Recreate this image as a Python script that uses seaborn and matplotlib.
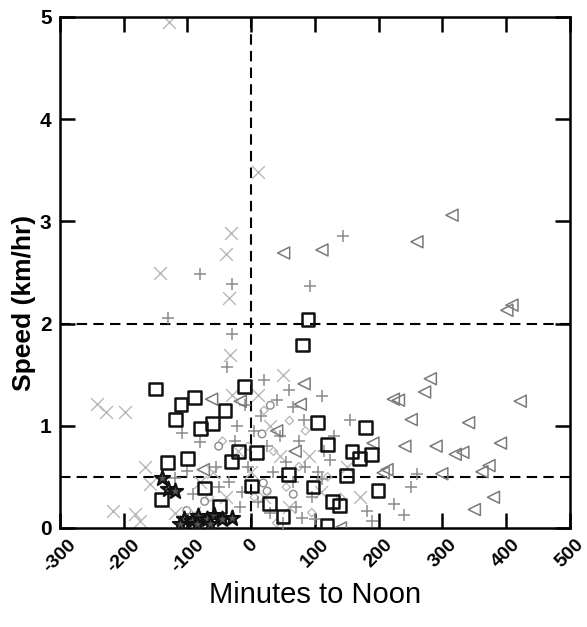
import matplotlib
matplotlib.use("Agg")
import matplotlib.pyplot as plt
import seaborn as sns
import pandas as pd

# open squares (black)
sq_x = [-150, -89, -110, -119, -80, -61, -41, -11, 89, 80, -131, -100, -20, -31, 9, 0,
        -140, -73, -50, 29, 50, 59, 104, 97, 179, 120, 158, 170, 189, 149, 199, 128, 138, 119]
sq_y = [1.36, 1.28, 1.21, 1.06, 0.97, 1.02, 1.15, 1.38, 2.04, 1.79, 0.64, 0.68, 0.75, 0.65, 0.74, 0.41,
        0.28, 0.39, 0.21, 0.24, 0.11, 0.52, 1.03, 0.40, 0.98, 0.82, 0.75, 0.68, 0.72, 0.51, 0.37, 0.26, 0.22, 0.02]

# open left triangles (gray)
tri_x = [409, 401, 281, 272, 223, 231, 422, 251, 341, 191, 241, 290, 320, 332, 391, 207, 213,
         299, 362, 373, 380, 350, 140, 315, 260, 111, 51, 83, -62, -17, 40, 69, -75, 77]
tri_y = [2.18, 2.13, 1.46, 1.33, 1.26, 1.25, 1.24, 1.06, 1.03, 0.83, 0.80, 0.80, 0.72, 0.74, 0.83, 0.54, 0.57,
         0.53, 0.55, 0.61, 0.30, 0.18, 0.0, 3.06, 2.80, 2.72, 2.69, 1.41, 1.26, 1.24, 0.95, 0.75, 0.57, 1.21]

# crosses (light gray)
x_x = [-129, 10, -31, -40, -143, -35, -33, -242, -227, -198, -166, -159, -216, -182, -174,
       -60, -40, -20, 0, 20, 45, 60, -80, 10, 30, -30, 50, 90, 110, 150, 170, -90, -120]
x_y = [4.95, 3.48, 2.89, 2.68, 2.49, 2.25, 1.69, 1.21, 1.13, 1.13, 0.60, 0.43, 0.17, 0.14, 0.07,
       0.55, 0.30, 0.75, 0.55, 0.30, 0.70, 0.20, 0.45, 1.30, 1.00, 1.30, 1.50, 0.70, 0.35, 0.60, 0.30, 0.15, 0.15]

# plus signs (gray)
p_x = [144, -80, -30, 92, -30, -130, -38, 111, 83, 155, 123, 111, 250, 260, 224, 240, 182, 190, 100,
       66, -80, -22, -17, -91, -109, -119, -101,
       5, 15, 25, 35, 45, 55, 65, 75, 85, 95, 105, 115, 130, -5, -15, -25, 10, 30, 50, 70, 80, -35, -55, -10, 40, 60, 20, -50]
p_y = [2.86, 2.48, 2.39, 2.37, 1.90, 2.05, 1.57, 1.29, 1.06, 1.06, 0.66, 0.48, 0.40, 0.53, 0.23, 0.13, 0.17, 0.07, 0.09,
       1.18, 0.84, 1.00, 0.20, 0.33, 0.93, 0.49, 0.56,
       0.95, 1.10, 0.80, 0.55, 0.90, 0.65, 0.45, 0.85, 0.60, 0.30, 0.55, 0.75, 0.90, 0.60, 0.35, 0.85, 0.25, 0.15, 0.05, 0.20, 0.10, 0.45, 0.60, 1.20, 1.25, 1.35, 1.45, 0.40]

# stars (black)
st_x = [-140, -130, -119, -106, -93, -83, -70, -59, -46, -30, -111, -85, -64]
st_y = [0.49, 0.38, 0.36, 0.09, 0.07, 0.12, 0.09, 0.13, 0.09, 0.10, 0.04, 0.04, 0.04]

# small open circles (gray)
c_x = [-101, -73, -51, 17, 30, 19, 66, -64, 25]
c_y = [0.17, 0.26, 0.80, 0.92, 1.20, 0.44, 0.33, 0.10, 0.36]

# small diamonds (light gray)
d_x = [-5, 35, 55, 75, 95, 5, 40, 120, -45, 20, 60, 140, -65, 85]
d_y = [0.80, 0.75, 0.40, 0.60, 0.15, 0.30, 0.05, 0.50, 0.85, 1.15, 1.05, 0.30, 0.30, 0.95]

sns.set_style("ticks")
plt.rcParams['font.family'] = ['Liberation Sans', 'DejaVu Sans']
plt.rcParams['axes.unicode_minus'] = False
plt.rcParams['text.color'] = 'k'
plt.rcParams['axes.labelcolor'] = 'k'

fig = plt.figure(figsize=(5.87, 6.27), dpi=100)
ax = fig.add_axes([0.102, 0.158, 0.869, 0.815])

ax.axvline(0, color='k', lw=1.5, ls=(0, (5, 3)), zorder=1)
ax.axhline(2, color='k', lw=1.5, ls=(0, (5, 3)), zorder=1)
ax.axhline(0.5, color='k', lw=1.5, ls=(0, (5, 3)), zorder=1)

def open_series(xs, ys, marker, size, color, lw, z, face='none'):
    df = pd.DataFrame({'x': xs, 'y': ys})
    sns.scatterplot(data=df, x='x', y='y', marker=marker, s=size, color=color,
                    linewidth=lw, ax=ax, zorder=z, legend=False)
    coll = ax.collections[-1]
    coll.set_facecolor(face)
    coll.set_edgecolor(color)
    coll.set_linewidth(lw)

open_series(d_x, d_y, 'D', 18, '#b5b5b5', 0.9, 2)
open_series(c_x, c_y, 'o', 30, '#8a8a8a', 1.0, 2)

sns.scatterplot(x=x_x, y=x_y, marker='x', s=85, color='#b8b8b8', linewidth=1.0, ax=ax, zorder=2, legend=False)
sns.scatterplot(x=p_x, y=p_y, marker='+', s=80, color='#8c8c8c', linewidth=1.1, ax=ax, zorder=3, legend=False)
open_series(tri_x, tri_y, '<', 75, '#7a7a7a', 1.1, 3)
open_series(st_x, st_y, '*', 130, '#111111', 1.6, 4, face='#555555')
open_series(sq_x, sq_y, 's', 85, '#111111', 1.8, 5)

ax.set_xlim(-300, 500)
ax.set_ylim(0, 5)
ax.set_xticks(range(-300, 501, 100))
ax.set_yticks(range(0, 6))
ax.set_xticklabels([str(v) for v in range(-300, 501, 100)], rotation=45,
                   fontsize=14, fontweight='bold', color='k')
ax.set_yticklabels([str(v) for v in range(0, 6)], fontsize=15, fontweight='bold', color='k')

for side in ax.spines.values():
    side.set_linewidth(1.8)
    side.set_color('k')
ax.tick_params(direction='in', length=11, width=1.8, top=True, right=True, color='k', pad=6)

ax.set_xlabel('Minutes to Noon', fontsize=21, labelpad=4)
ax.set_ylabel('Speed (km/hr)', fontsize=19, fontweight='bold')
ax.yaxis.set_label_coords(-0.047, 0.44)

fig.savefig('out.png', dpi=100)
